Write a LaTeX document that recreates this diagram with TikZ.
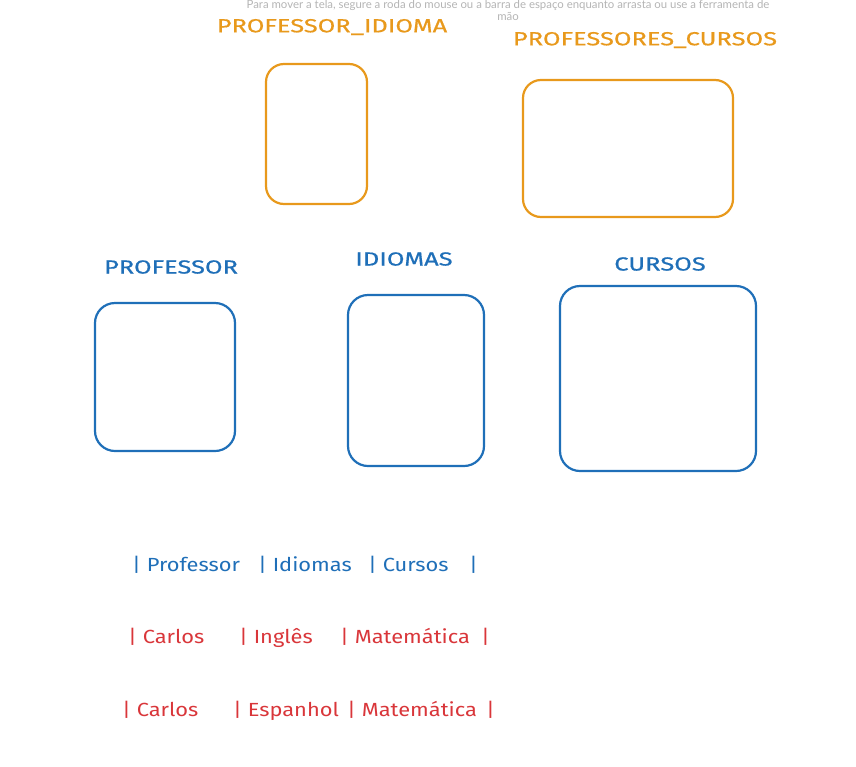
\documentclass[tikz,border=0pt]{standalone}
\usepackage{fontspec}
\setmainfont{Lato}
\newfontfamily\hand[FakeStretch=1.15]{Fira Sans}
\newfontfamily\handtitle[FakeStretch=1.34,FakeBold=0.6]{Fira Sans}
\newfontfamily\note{Lato}
\definecolor{exorange}{HTML}{E8991C}
\definecolor{exblue}{HTML}{1F6FB8}
\definecolor{exred}{HTML}{D9363A}
\definecolor{exgray}{HTML}{B4B4B4}
\begin{document}
\begin{tikzpicture}[x=1pt,y=-1pt,
  obox/.style={draw=exorange,line width=2.2pt,rounded corners=18pt},
  bbox/.style={draw=exblue,line width=2.2pt,rounded corners=20pt},
  otitle/.style={text=exorange,font=\handtitle\fontsize{19}{22}\selectfont,inner sep=0pt},
  btitle/.style={text=exblue,font=\handtitle\fontsize{19}{22}\selectfont,inner sep=0pt},
  rowtext/.style={font=\hand\fontsize{19}{22}\selectfont,inner sep=0pt,anchor=west},
  hint/.style={text=exgray,font=\note\fontsize{11.4}{13}\selectfont,inner sep=0pt}]
\useasboundingbox (0,0) rectangle (856,766);
% hint text
\node[hint] (hint1) at (508,5) {Para mover a tela, segure a roda do mouse ou a barra de espaço enquanto arrasta ou use a ferramenta de};
\node[hint] (hint2) at (508,17) {mão};
% orange tables
\node[otitle] (t1) at (332,27) {PROFESSOR\_IDIOMA};
\node[otitle] (t2) at (645,40) {PROFESSORES\_CURSOS};
\draw[obox] (266,64) rectangle (367,204);
\draw[obox] (523,80) rectangle (733,217);
% blue tables
\node[btitle] (t3) at (171,267) {PROFESSOR};
\node[btitle] (t4) at (404,259) {IDIOMAS};
\node[btitle] (t5) at (660,264) {CURSOS};
\draw[bbox] (95,303) rectangle (235,451);
\draw[bbox] (348,295) rectangle (484,466);
\draw[bbox] (560,286) rectangle (756,471);
% rows
\node[rowtext,text=exblue] (r1) at (132,565) {\makebox[126pt][l]{| Professor}\makebox[110pt][l]{| Idiomas}\makebox[101pt][l]{| Cursos}|};
\node[rowtext,text=exred] (r2) at (128,638) {\makebox[111pt][l]{| Carlos}\makebox[101pt][l]{| Inglês}\makebox[141pt][l]{| Matemática}|};
\node[rowtext,text=exred] (r3) at (122,711) {\makebox[111pt][l]{| Carlos}\makebox[114pt][l]{| Espanhol}\makebox[139pt][l]{| Matemática}|};
\end{tikzpicture}
\end{document}
